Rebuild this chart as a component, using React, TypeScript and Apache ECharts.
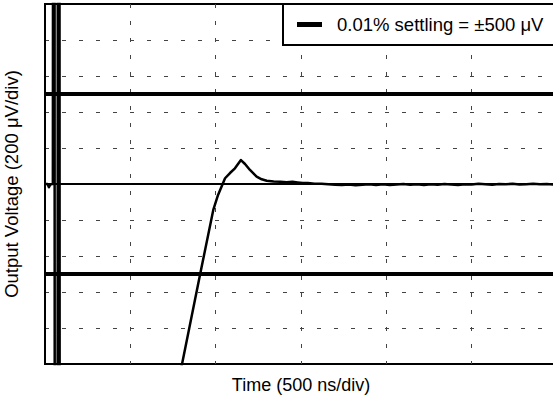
import React, { useEffect, useRef } from "react";
import * as echarts from "echarts";

// Time axis (ns), 500 ns/div, 6 divisions
const xTicks = [0, 500, 1000, 1500, 2000, 2500, 3000];
// Voltage axis (µV), 200 µV/div, 10 divisions
const yTicks = [-1000, -800, -600, -400, -200, 0, 200, 400, 600, 800, 1000];

const settlingName = "0.01% settling = \u00b1500 \u03bcV";
const settlingBand = [500, -500];

const traceTimes = [
  0, 15, 23, 30, 40, 46, 47, 56, 57, 74, 75, 85, 86, 700, 760, 803, 908, 986,
  1014, 1055, 1084, 1113, 1148, 1172, 1201, 1240, 1270, 1299, 1340, 1380,
  1416, 1450, 1480, 1510, 1540, 1580, 1620, 1660, 1700, 1740, 1780, 1820,
  1860, 1900, 1940, 1980, 2020, 2060, 2100, 2140, 2180, 2220, 2260, 2300,
  2340, 2380, 2420, 2460, 2500, 2540, 2580, 2620, 2660, 2700, 2740, 2780,
  2820, 2860, 2900, 2940, 2980, 3000,
];
const traceValues = [
  0, 0, -18, -5, 0, 0, 1600, 1600, -1600, -1600, 1600, 1600, -1600, -1600,
  -1200, -1000, -506, -144, -61, 32, 61, 87, 133, 111, 78, 41, 26, 18, 14, 12,
  10, 13, 9, 5, 6, 2, 1, -2, -4, -6, -3, -7, -4, -1, -5, -2, -6, -3, 0, -4,
  -2, -5, -1, -4, 0, -3, -5, -1, -3, 1, -2, -4, 0, -2, 2, -3, -1, 1, -2, 0, -3, -1,
];

export default function App() {
  const ref = useRef<HTMLDivElement>(null);
  useEffect(() => {
    if (!ref.current) return;
    const chart = echarts.init(ref.current, undefined, { renderer: "svg" });
    const font = "'Liberation Sans', Arial, Helvetica, sans-serif";
    const trace = traceTimes.map((t, i) => [t, traceValues[i]]);
    const xMin = xTicks[0];
    const xMax = xTicks[xTicks.length - 1];
    const settleData: any[] = [];
    settlingBand.forEach((v, i) => {
      if (i > 0) settleData.push("-");
      settleData.push([xMin, v], [xMax, v]);
    });
    chart.setOption({
      animation: false,
      backgroundColor: "#fff",
      grid: {
        left: 45,
        top: 4,
        right: -4,
        bottom: 37,
        outerBoundsMode: "none",
        containLabel: false,
        show: true,
        borderColor: "#000",
        borderWidth: 2,
        backgroundColor: "transparent",
      },
      legend: {
        data: [settlingName],
        left: 283,
        top: 4,
        padding: [11, 24, 11, 14],
        backgroundColor: "#fff",
        borderColor: "#000",
        borderWidth: 2,
        borderRadius: 0,
        icon: "rect",
        itemWidth: 25,
        itemHeight: 5,
        selectedMode: false,
        textStyle: {
          fontFamily: font,
          fontSize: 18.5,
          color: "#000",
          padding: [0, 0, 0, 10],
        },
      },
      xAxis: {
        type: "value",
        min: xMin,
        max: xMax,
        interval: xTicks[1] - xTicks[0],
        name: "Time (500 ns/div)",
        nameLocation: "middle",
        nameGap: 12,
        nameTextStyle: { fontFamily: font, fontSize: 18, color: "#000" },
        axisLine: { show: true, lineStyle: { color: "#000", width: 2 } },
        axisTick: { show: false },
        axisLabel: { show: false },
        splitLine: {
          show: true,
          showMinLine: false,
          showMaxLine: false,
          lineStyle: { color: "#444", width: 1, type: [4, 13] },
        },
      },
      yAxis: {
        type: "value",
        min: yTicks[0],
        max: yTicks[yTicks.length - 1],
        interval: yTicks[1] - yTicks[0],
        name: "Output Voltage (200 \u03bcV/div)",
        nameLocation: "middle",
        nameRotate: 90,
        nameGap: 24,
        nameTextStyle: { fontFamily: font, fontSize: 18.5, color: "#000" },
        axisLine: { show: true, lineStyle: { color: "#000", width: 2 } },
        axisTick: { show: false },
        axisLabel: { show: false },
        splitLine: {
          show: true,
          showMinLine: false,
          showMaxLine: false,
          lineStyle: { color: "#444", width: 1, type: [4, 13] },
        },
      },
      series: [
        {
          name: settlingName,
          type: "line",
          data: settleData,
          showSymbol: false,
          connectNulls: false,
          lineStyle: { color: "#000", width: 4 },
          itemStyle: { color: "#000" },
          z: 3,
        },
        {
          name: "trace",
          type: "line",
          data: trace,
          showSymbol: false,
          clip: true,
          lineStyle: { color: "#000", width: 2.5, join: "round" },
          itemStyle: { color: "#000" },
          z: 4,
        },
      ],
    });
    return () => chart.dispose();
  }, []);
  return (
    <div
      ref={ref}
      style={{ position: "fixed", left: 0, top: 0, width: 553, height: 401 }}
    />
  );
}
